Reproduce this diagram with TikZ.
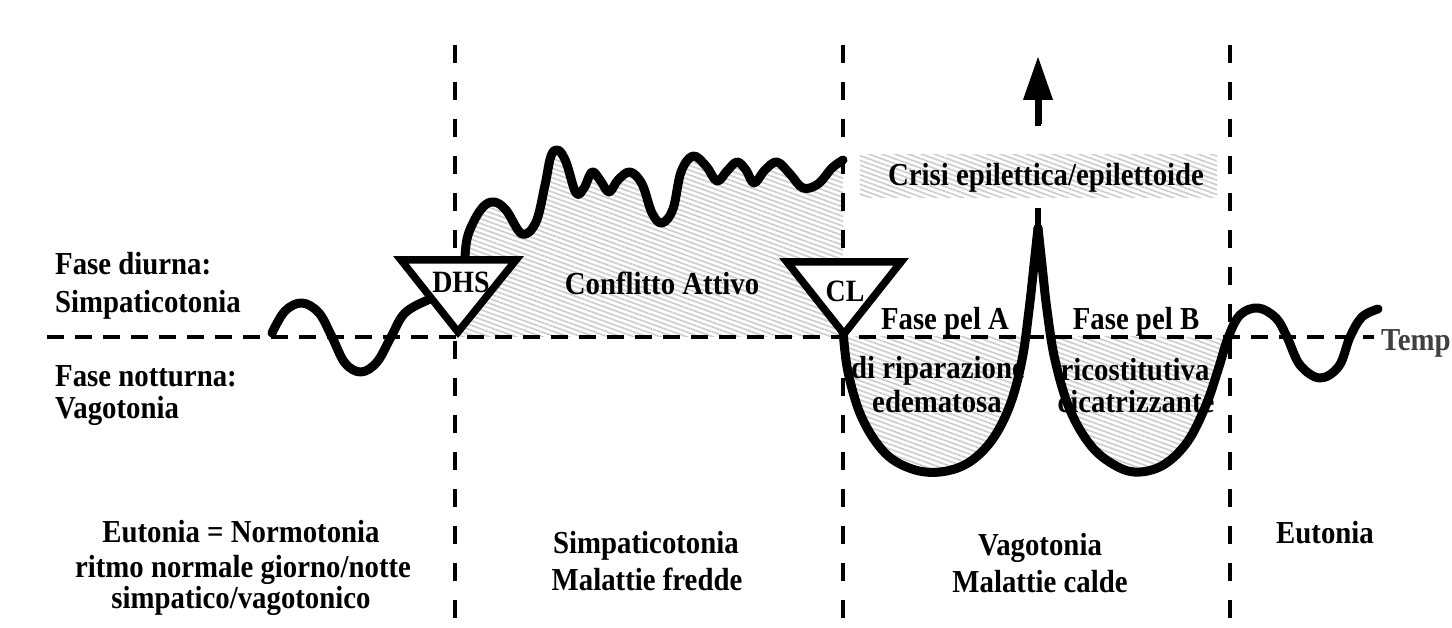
\documentclass[tikz,border=0pt]{standalone}
\usepackage{fontspec}
\setmainfont{Liberation Serif}
\newfontfamily\condfont[FakeStretch=0.9]{Liberation Serif}
\usetikzlibrary{patterns.meta,arrows.meta}
\begin{document}
\begin{tikzpicture}[x=1pt,y=-1pt,
  curve/.style={line width=9pt, line cap=round, line join=round},
  vdash/.style={line width=4.5pt, dash pattern=on 18pt off 19pt},
  hdash/.style={line width=4pt, dash pattern=on 17pt off 11pt},
  hatch/.style={pattern={Lines[angle=-20,distance=4.5pt,line width=1.6pt]}, pattern color=gray!40},
  tri/.style={draw, line width=7.5pt, fill=white, line join=miter},
  lbl/.style={font=\condfont\fontsize{32}{36}\selectfont\bfseries, inner sep=0pt},
  tlbl/.style={font=\condfont\fontsize{31}{36}\selectfont\bfseries, inner sep=0pt}]
\useasboundingbox (0,0) rectangle (1452,628);
\fill[white] (0,0) rectangle (1452,628);

% shaded region: active conflict
\fill[hatch] plot[smooth,tension=0.6] coordinates {(464,285)(466,245)(472,225)(483,207)(494,202)(506,210)(522,234)(536,222)(545,185)(551,156)(558,150)(566,162)(576,193)(584,188)(592,172)(600,180)(609,192)(618,180)(630,172)(642,184)(652,213)(662,223)(673,209)(681,172)(693,156)(706,166)(717,181)(727,171)(737,162)(746,170)(754,183)(765,170)(777,162)(790,174)(803,188)(818,184)(832,168)(843,160)} -- (843,337) -- (458,337) -- cycle;

% shaded region: healing phases (below the baseline)
\begin{scope}
\clip (843,337) rectangle (1232,490);
\fill[hatch] plot[smooth,tension=0.6] coordinates {(843,330)(848,372)(862,418)(885,453)(912,469)(940,472)(968,463)(992,440)(1010,405)(1022,360)(1029,310)(1034,265)(1038,228)}
  -- plot[smooth,tension=0.6] coordinates {(1038,228)(1042,265)(1047,310)(1055,360)(1070,410)(1092,447)(1118,467)(1140,472)(1165,464)(1188,441)(1206,405)(1218,370)(1228,338)} -- cycle;
\end{scope}

% time axis and phase borders
\coordinate (axL) at (47,337);
\coordinate (axR) at (1374,337);
\draw[hdash] (axL) -- (axR);
\foreach \n/\x in {v1/455, v2/843, v3/1230} {
  \coordinate (\n top) at (\x,45);
  \coordinate (\n bot) at (\x,628);
  \draw[vdash] (\n top) -- (\n bot);
}

% arrow of the epileptic crisis
\coordinate (spiketop) at (1038,226);
\coordinate (shaft) at (1038,124);
\coordinate (arrowtip) at (1038,56);
\draw[line width=6pt, dash pattern=on 18pt off 32pt] (spiketop) -- (shaft);
\draw[line width=7pt, -{Triangle[length=44pt,width=28pt]}] (shaft) -- (arrowtip);

% crisis band
\node[inner sep=0pt, minimum width=357pt, minimum height=42pt, fill=white] (crisiband) at (1038.5,176) {};
\fill[hatch] (crisiband.north west) rectangle (crisiband.south east);
\node[lbl, anchor=base] (crisi) at (1046,186) {Crisi epilettica/epilettoide};

% curves
\draw[curve] plot[smooth,tension=0.6] coordinates {(272,333)(285,311)(302,303)(319,313)(332,337)(345,363)(361,372)(377,362)(391,337)(405,313)(430,299)(450,292)};
\draw[curve] plot[smooth,tension=0.6] coordinates {(464,285)(466,245)(472,225)(483,207)(494,202)(506,210)(522,234)(536,222)(545,185)(551,156)(558,150)(566,162)(576,193)(584,188)(592,172)(600,180)(609,192)(618,180)(630,172)(642,184)(652,213)(662,223)(673,209)(681,172)(693,156)(706,166)(717,181)(727,171)(737,162)(746,170)(754,183)(765,170)(777,162)(790,174)(803,188)(818,184)(832,168)(843,160)};
\draw[curve] plot[smooth,tension=0.6] coordinates {(843,330)(848,372)(862,418)(885,453)(912,469)(940,472)(968,463)(992,440)(1010,405)(1022,360)(1029,310)(1034,265)(1038,228)};
\draw[curve] plot[smooth,tension=0.6] coordinates {(1038,228)(1042,265)(1047,310)(1055,360)(1070,410)(1092,447)(1118,467)(1140,472)(1165,464)(1188,441)(1206,405)(1218,370)(1228,338)(1240,315)(1258,308)(1276,318)(1287,337)(1300,365)(1320,378)(1339,366)(1350,337)(1362,317)(1378,309)};

% triangles
\draw[tri] (401,260) -- (516,260) -- (458,332) -- cycle;
\node[tlbl, anchor=base] (dhs) at (461,293) {DHS};
\draw[tri] (787,262) -- (901,262) -- (844,334) -- cycle;
\node[tlbl, anchor=base] (cl) at (845,302) {CL};

% labels
\node[lbl, anchor=base west] (fd) at (55,275) {Fase diurna:};
\node[lbl, anchor=base west] (sp) at (55,313) {Simpaticotonia};
\node[lbl, anchor=base west] (fn) at (55,387) {Fase notturna:};
\node[lbl, anchor=base west] (vg) at (55,418) {Vagotonia};
\node[lbl, anchor=base] (ca) at (662,295) {Conflitto Attivo};
\node[lbl, anchor=base] (fa) at (945,330) {Fase pel A};
\node[lbl, anchor=base] (fa2) at (938,379) {di riparazione};
\node[lbl, anchor=base] (fa3) at (937,413) {edematosa};
\node[lbl, anchor=base] (fb) at (1136,330) {Fase pel B};
\node[lbl, anchor=base] (fb2) at (1135,381) {ricostitutiva};
\node[lbl, anchor=base] (fb3) at (1136,413) {cicatrizzante};
\node[font=\condfont\fontsize{32}{36}\selectfont\bfseries, inner sep=0pt, anchor=base west, text=black!75] (tempo) at (1381,351) {Temp};

\node[lbl, anchor=base] (b1) at (241,542) {Eutonia = Normotonia};
\node[lbl, anchor=base] (b2) at (243,577) {ritmo normale giorno/notte};
\node[lbl, anchor=base] (b3) at (241,608) {simpatico/vagotonico};
\node[lbl, anchor=base] (b4) at (646,553) {Simpaticotonia};
\node[lbl, anchor=base] (b5) at (647,590) {Malattie fredde};
\node[lbl, anchor=base] (b6) at (1040,555) {Vagotonia};
\node[lbl, anchor=base] (b7) at (1040,592) {Malattie calde};
\node[lbl, anchor=base] (b8) at (1325,543) {Eutonia};
\end{tikzpicture}
\end{document}
